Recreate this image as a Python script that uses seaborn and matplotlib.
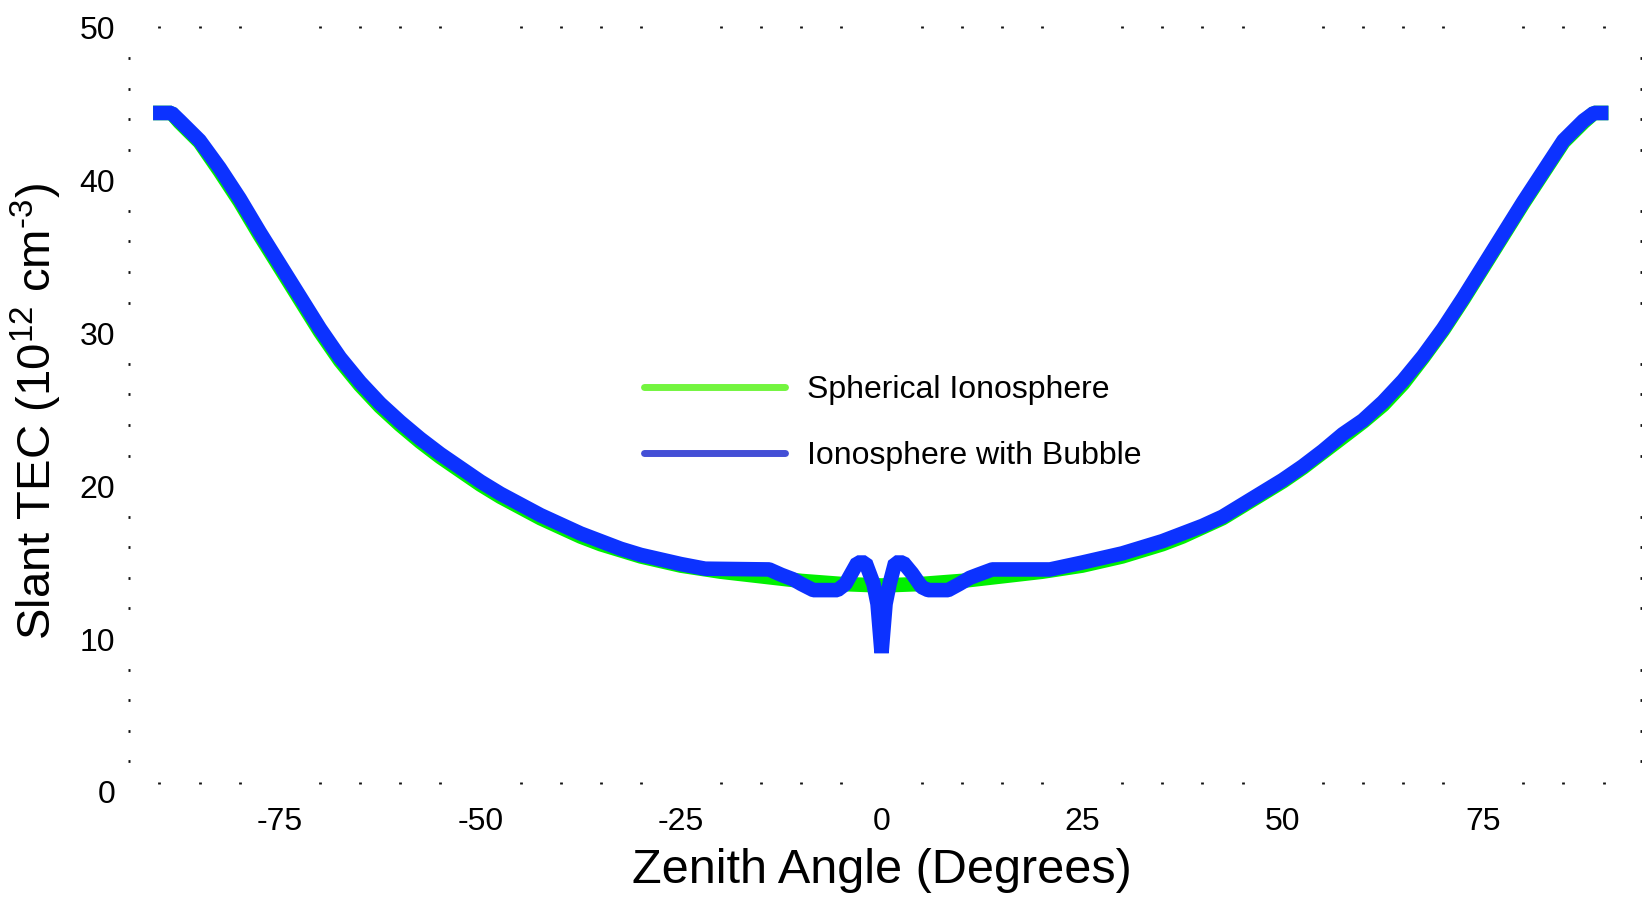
import numpy as np
import pandas as pd
import matplotlib
matplotlib.use("Agg")
import matplotlib.pyplot as plt
from matplotlib.lines import Line2D
from matplotlib.ticker import FixedLocator
import seaborn as sns

# ---------------- data ----------------
sph_x = [-90.8, -88.5, -87.5, -85, -82.5, -80, -77.5, -75, -72.5, -70, -67.5, -65,
         -62.5, -60, -57.5, -55, -52.5, -50, -47.5, -45, -42.5, -40, -37.5, -35,
         -32.5, -30, -27.5, -25, -20, -15, -10, -5, 0, 5, 10, 15, 20, 25, 27.5,
         30, 32.5, 35, 37.5, 40, 42.5, 45, 47.5, 50, 52.5, 55, 57.5, 60, 62.5,
         65, 67.5, 70, 72.5, 75, 77.5, 80, 82.5, 85, 87.5, 88.8, 90.6]
sph_y = [44.4, 44.4, 43.8, 42.5, 40.6, 38.6, 36.4, 34.3, 32.2, 30.1, 28.2, 26.6,
         25.2, 24.0, 22.9, 21.9, 21.0, 20.1, 19.3, 18.6, 17.9, 17.3, 16.7, 16.2,
         15.8, 15.4, 15.1, 14.8, 14.4, 14.1, 13.8, 13.6, 13.5, 13.6, 13.8, 14.1,
         14.4, 14.8, 15.1, 15.4, 15.8, 16.2, 16.7, 17.3, 17.9, 18.7, 19.5, 20.3,
         21.2, 22.2, 23.2, 24.2, 25.3, 26.7, 28.4, 30.2, 32.2, 34.3, 36.4, 38.5,
         40.5, 42.5, 43.8, 44.4, 44.4]

bub_x = [-90.8, -88.5, -87.5, -85, -82.5, -80, -77.5, -75, -72.5, -70, -67.5, -65,
         -62.5, -60, -57.5, -55, -52.5, -50, -47.5, -45, -42.5, -40, -37.5, -35,
         -32.5, -30, -27.5, -25, -22, -14, -12.5, -11, -10, -8.5, -5.5, -4.5,
         -3.0, -2.0, -1.0, -0.5, 0, 0.5, 1.0, 1.7, 2.7, 3.8, 5.0, 5.8, 8.3, 9.7,
         11.0, 12.0, 13.8, 21, 25, 27.5, 30, 32.5, 35, 37.5, 40, 42.5, 45, 47.5,
         50, 52.5, 55, 57.5, 60, 62.5, 65, 67.5, 70, 72.5, 75, 77.5, 80, 82.5,
         85, 87.5, 88.8, 90.6]
bub_y = [44.4, 44.4, 43.9, 42.6, 40.8, 38.8, 36.6, 34.5, 32.4, 30.3, 28.4, 26.8,
         25.4, 24.2, 23.1, 22.1, 21.2, 20.3, 19.5, 18.8, 18.1, 17.5, 16.9, 16.4,
         15.9, 15.5, 15.2, 14.9, 14.6, 14.55, 14.2, 13.9, 13.6, 13.2, 13.2, 13.6,
         15.0, 15.0, 13.6, 12.3, 9.1, 12.3, 13.6, 15.0, 15.0, 14.3, 13.4, 13.2,
         13.2, 13.6, 14.0, 14.2, 14.55, 14.55, 15.0, 15.3, 15.6, 16.0, 16.4, 16.9,
         17.4, 18.0, 18.8, 19.6, 20.4, 21.3, 22.3, 23.4, 24.3, 25.5, 26.9, 28.5,
         30.3, 32.3, 34.4, 36.5, 38.6, 40.6, 42.6, 43.9, 44.4, 44.4]

series_labels = ["Spherical Ionosphere", "Ionosphere with Bubble"]
x_ticks = [-75, -50, -25, 0, 25, 50, 75]
y_ticks = [0, 10, 20, 30, 40, 50]

# ---------------- style ----------------
sns.set_theme(style="white")
plt.rcParams["font.family"] = ["Liberation Sans", "DejaVu Sans"]
plt.rcParams["mathtext.fontset"] = "custom"
plt.rcParams["mathtext.rm"] = "Liberation Sans"
plt.rcParams["mathtext.default"] = "regular"
plt.rcParams["axes.unicode_minus"] = False
plt.rcParams["text.color"] = "black"
plt.rcParams["axes.labelcolor"] = "black"

fig = plt.figure(figsize=(16.42, 9.02), dpi=100)
ax = fig.add_axes([129 / 1642, 0.1220, (1640.5 - 129) / 1642, 0.9697 - 0.1220])

df_s = pd.DataFrame({"x": sph_x, "y": sph_y})
df_b = pd.DataFrame({"x": bub_x, "y": bub_y})
sns.lineplot(data=df_s, x="x", y="y", ax=ax, color="#00f000", linewidth=10.5,
             solid_capstyle="butt", solid_joinstyle="bevel", legend=False, sort=False)
sns.lineplot(data=df_b, x="x", y="y", ax=ax, color="#0c32ff", linewidth=10.5,
             solid_capstyle="butt", solid_joinstyle="bevel", legend=False, sort=False)

ax.set_xlim(-93.8, 94.6)
ax.set_ylim(0, 50)

for s in ax.spines.values():
    s.set_visible(False)
ax.spines["bottom"].set_position(("data", 0.56))

ax.xaxis.set_major_locator(FixedLocator(x_ticks))
ax.yaxis.set_major_locator(FixedLocator(y_ticks))
ax.xaxis.set_minor_locator(FixedLocator(list(range(-90, 91, 5))))
ax.yaxis.set_minor_locator(FixedLocator(list(range(2, 51, 2))))
ax.set_xticklabels([str(v) for v in x_ticks])
ax.set_yticklabels([str(v) for v in y_ticks])

ax.tick_params(axis="both", which="major", length=0, labelsize=23, colors="black")
ax.tick_params(axis="x", which="major", pad=17)
ax.tick_params(axis="y", which="major", pad=10)
ax.tick_params(axis="both", which="minor", length=2.0, width=2.0, direction="inout",
               color="#111111", top=True, bottom=True, left=True, right=True)
ax.grid(False)

ax.set_xlabel("Zenith Angle (Degrees)", fontsize=35, va="center", color="black")
ax.xaxis.set_label_coords(0.498, -0.103)
ax.set_ylabel(r"Slant TEC (10$^{12}$ cm$^{\text{-3}}$)", fontsize=34, va="center",
              color="black")
ax.yaxis.set_label_coords(-0.061, 0.498)

handles = [Line2D([0], [0], color="#73f53f", lw=5),
           Line2D([0], [0], color="#444fd6", lw=5)]
leg = ax.legend(handles, series_labels, loc="upper left",
                bbox_to_anchor=(644 / 1642, 1 - 375 / 902), bbox_transform=fig.transFigure,
                frameon=False, fontsize=23, handlelength=4.4, handletextpad=0.7,
                labelspacing=1.12, borderpad=0, borderaxespad=0)
for t in leg.get_texts():
    t.set_color("black")

fig.savefig("out.png", dpi=100)
